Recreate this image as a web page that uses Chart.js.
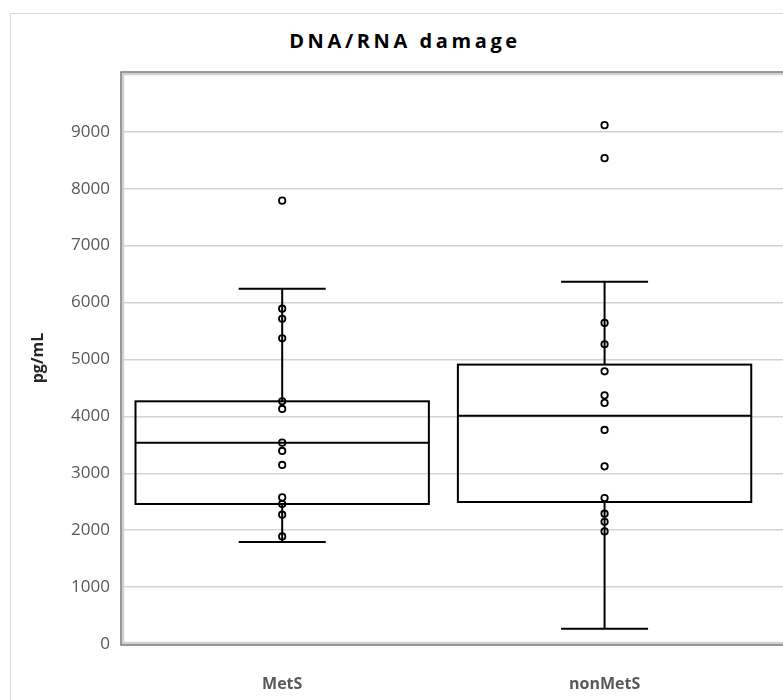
<!DOCTYPE html>
<html>
<head>
<meta charset="utf-8">
<script src="https://cdn.jsdelivr.net/npm/chart.js@4.4.1/dist/chart.umd.min.js"></script>
<style>
    body { margin: 0; background: #fff; overflow: hidden; }
    #wrap { position: relative; width: 783px; height: 700px; overflow: hidden; }
    #frame { position: absolute; left: 10px; top: 13px; width: 900px; height: 800px; border: 1px solid #d9d9d9; }
    #title {
        position: absolute; left: 0; width: 810px; top: 27px; text-align: center;
        font-family: "Open Sans", sans-serif; font-weight: bold; font-size: 20px;
        letter-spacing: 3.6px; color: #000;
    }
    canvas { position: absolute; left: 0; top: 0; }
</style>
</head>
<body>
<div id="wrap">
    <div id="frame"></div>
    <div id="title">DNA/RNA damage</div>
    <canvas id="boxChart" width="810" height="700"></canvas>
</div>
<script>
// categories and box statistics (pg/mL)
const categories = ["MetS", "nonMetS"];
const whiskerLow = [1790, 267];
const q1 = [2460, 2495];
const median = [3538, 4012];
const q3 = [4264, 4909];
const whiskerHigh = [6240, 6363];

// individual observations
const metsValues = [7790, 5891, 5715, 5371, 4264, 4130, 3538, 3392, 3146, 2576, 2460, 2272, 1890];
const nonMetsValues = [9116, 8536, 5642, 5266, 4791, 4369, 4236, 3761, 3121, 2565, 2289, 2148, 1978];

const yTicks = [0, 1000, 2000, 3000, 4000, 5000, 6000, 7000, 8000, 9000];

// box and cap widths in category units
const boxWidth = 0.91;
const capWidth = 0.27;

// draws boxes, medians and whiskers through the chart scales
const boxPlotPlugin = {
    id: "boxPlot",
    beforeDatasetsDraw(chart) {
        const ctx = chart.ctx;
        const xs = chart.scales.x;
        const ys = chart.scales.y;
        ctx.save();
        ctx.strokeStyle = "#000";
        ctx.lineWidth = 2;
        categories.forEach((cat, i) => {
            const cx = xs.getPixelForValue(i + 1);
            const left = xs.getPixelForValue(i + 1 - boxWidth / 2);
            const right = xs.getPixelForValue(i + 1 + boxWidth / 2);
            const capL = xs.getPixelForValue(i + 1 - capWidth / 2);
            const capR = xs.getPixelForValue(i + 1 + capWidth / 2);
            const yq1 = ys.getPixelForValue(q1[i]);
            const yq3 = ys.getPixelForValue(q3[i]);
            const ymed = ys.getPixelForValue(median[i]);
            const ylo = ys.getPixelForValue(whiskerLow[i]);
            const yhi = ys.getPixelForValue(whiskerHigh[i]);

            ctx.beginPath();
            // whiskers
            ctx.moveTo(cx, yq3); ctx.lineTo(cx, yhi);
            ctx.moveTo(capL, yhi); ctx.lineTo(capR, yhi);
            ctx.moveTo(cx, yq1); ctx.lineTo(cx, ylo);
            ctx.moveTo(capL, ylo); ctx.lineTo(capR, ylo);
            // median
            ctx.moveTo(left, ymed); ctx.lineTo(right, ymed);
            ctx.stroke();
            ctx.strokeRect(left, yq3, right - left, yq1 - yq3);
        });
        ctx.restore();
    },
    afterDraw(chart) {
        // plot area frame, dark outer line with a light inner line
        const ctx = chart.ctx;
        const a = chart.chartArea;
        ctx.save();
        ctx.strokeStyle = "#d0d0d0";
        ctx.lineWidth = 2.5;
        ctx.strokeRect(a.left + 2, a.top + 2, a.right - a.left - 4, a.bottom - a.top - 3);
        ctx.strokeStyle = "#7a7a7a";
        ctx.lineWidth = 1.5;
        ctx.strokeRect(a.left, a.top, a.right - a.left, a.bottom - a.top + 1);
        ctx.restore();
    }
};

function pointsFor(values, idx) {
    return values.map(v => ({ x: idx, y: v }));
}

const pointStyle = {
    type: "scatter",
    pointStyle: "circle",
    pointRadius: 3.2,
    pointBorderWidth: 1.8,
    borderColor: "#000",
    backgroundColor: "rgba(0,0,0,0)",
    pointHoverRadius: 3.2
};

new Chart(document.getElementById("boxChart").getContext("2d"), {
    type: "scatter",
    data: {
        datasets: [
            Object.assign({ label: categories[0], data: pointsFor(metsValues, 1) }, pointStyle),
            Object.assign({ label: categories[1], data: pointsFor(nonMetsValues, 2) }, pointStyle)
        ]
    },
    options: {
        responsive: false,
        animation: false,
        layout: { padding: { top: 72, right: 12, left: 0, bottom: 0 } },
        plugins: {
            legend: { display: false },
            tooltip: { enabled: false }
        },
        scales: {
            x: {
                type: "linear",
                min: 0.5,
                max: 2.6,
                afterBuildTicks: axis => { axis.ticks = categories.map((c, i) => ({ value: i + 1 })); },
                afterFit: scale => { scale.height = 56; },
                grid: { display: false, drawTicks: false },
                border: { display: false },
                ticks: {
                    padding: 31,
                    color: "#595959",
                    font: { family: "Open Sans", size: 16, weight: "bold" },
                    callback: v => categories[v - 1]
                }
            },
            y: {
                min: 0,
                max: 10050,
                afterBuildTicks: axis => { axis.ticks = yTicks.map(v => ({ value: v })); },
                afterFit: scale => { scale.width = 121; },
                grid: { color: "#d4d4d4", lineWidth: 1.5, drawTicks: false },
                border: { display: false },
                ticks: {
                    padding: 11,
                    color: "#595959",
                    font: { family: "Open Sans", size: 17 },
                    callback: v => String(v)
                },
                title: {
                    display: true,
                    text: "pg/mL",
                    color: "#262626",
                    font: { family: "Open Sans", size: 16, weight: "bold" },
                    padding: { top: 29, bottom: 0 }
                }
            }
        }
    },
    plugins: [boxPlotPlugin]
});
</script>
</body>
</html>
